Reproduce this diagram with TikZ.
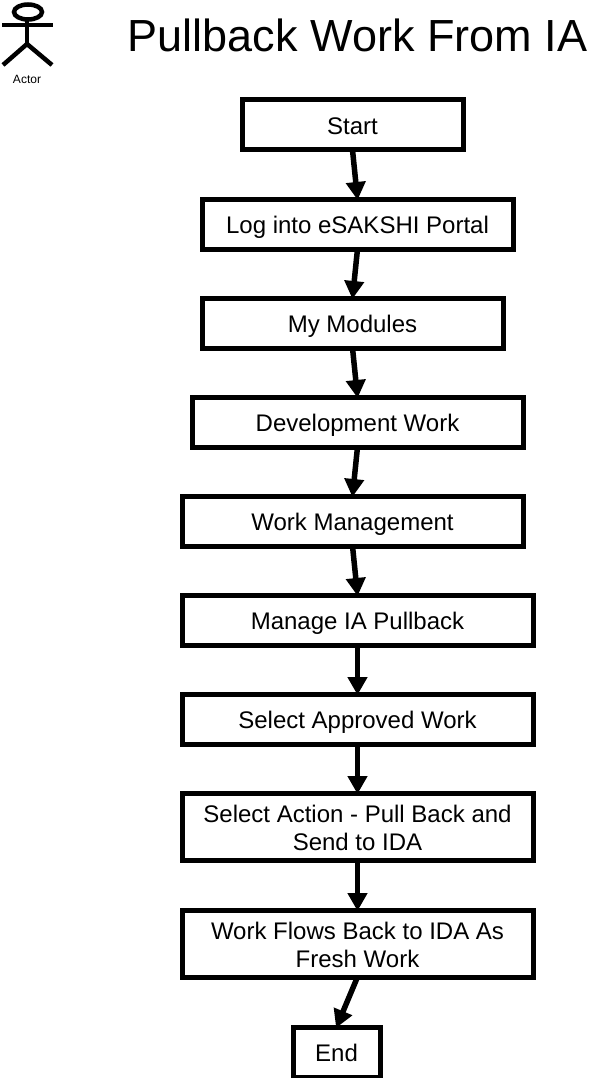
\documentclass[tikz,border=0pt]{standalone}
\usepackage{fontspec}
\setmainfont{Liberation Sans}
\usetikzlibrary{arrows.meta}
\tikzset{
  flowbox/.style={draw=black,line width=5pt,fill=white,inner sep=0pt,outer sep=0pt,align=center,
    font=\fontsize{24}{28}\selectfont},
  flowarrow/.style={draw=black,line width=5.5pt,-{Triangle[length=18pt,width=19pt]},shorten >=-1pt},
  figure/.style={draw=black,line width=4.5pt}
}
\newcommand{\fbx}[6]{% name, x1, y1, x2, y2, text
  \node[flowbox,minimum width={(#4-#2)*1pt},minimum height={(#5-#3)*1pt}] (#1) at ({(#2+#4)/2},{(#3+#5)/2}) {#6};}
\newcommand{\onel}{\rule[-6pt]{0pt}{31pt}}
\newcommand{\firstl}{\rule{0pt}{22pt}}
\newcommand{\lastl}{\rule[-1.8pt]{0pt}{3pt}}
\begin{document}
\begin{tikzpicture}[x=1pt,y=-1pt]
\useasboundingbox (0,0) rectangle (598,1078);
\fill[white] (0,0) rectangle (598,1078);
% actor
\draw[figure] (28,12) ellipse [x radius=14,y radius=7.5];
\draw[figure] (2,25) -- (53,25);
\draw[figure] (27,20) -- (27,44);
\draw[figure] (3,65) -- (27,44) -- (52,65);
\node[font=\fontsize{12}{14}\selectfont,inner sep=0pt] (actor) at (27,79.5) {Actor};
\node[font=\fontsize{45}{52}\selectfont,inner sep=0pt,anchor=base] (title) at (357.5,52) {Pullback Work From IA};
% boxes
\fbx{start}{242}{100}{463}{150}{\onel Start}
\fbx{login}{202}{199}{513}{249}{\onel Log into eSAKSHI Portal}
\fbx{modules}{202}{298}{503}{348}{\onel My Modules}
\fbx{dev}{192}{397}{523}{447}{\onel Development Work}
\fbx{mgmt}{182}{496}{523}{546}{\onel Work Management}
\fbx{pull}{182}{595}{533}{645}{\onel Manage IA Pullback}
\fbx{approved}{182}{694}{533}{744}{\onel Select Approved Work}
\fbx{action}{182}{793}{533}{860}{\firstl Select Action - Pull Back and\\Send to IDA\lastl}
\fbx{flows}{182}{910}{533}{977}{\firstl Work Flows Back to IDA As\\Fresh Work\lastl}
\fbx{endb}{293}{1027}{380}{1077}{\onel End}
% connectors
\draw[flowarrow] (start.south) -- (login.north);
\draw[flowarrow] (login.south) -- (modules.north);
\draw[flowarrow] (modules.south) -- (dev.north);
\draw[flowarrow] (dev.south) -- (mgmt.north);
\draw[flowarrow] (mgmt.south) -- (pull.north);
\draw[flowarrow] (pull.south) -- (approved.north);
\draw[flowarrow] (approved.south) -- (action.north);
\draw[flowarrow] (action.south) -- (flows.north);
\draw[flowarrow] (flows.south) -- (endb.north);
\end{tikzpicture}
\end{document}
